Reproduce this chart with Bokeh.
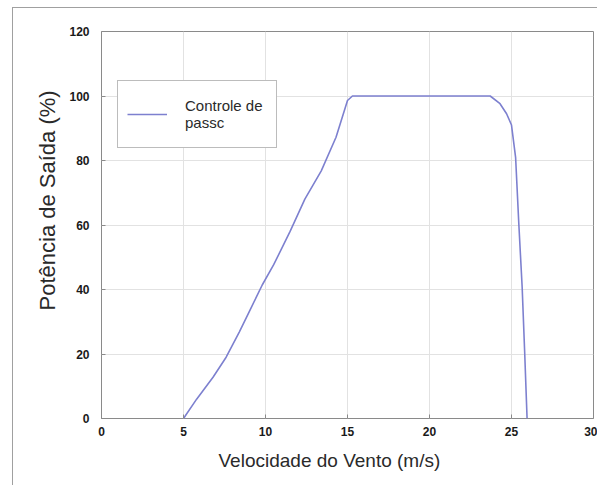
from bokeh.plotting import figure
from bokeh.models import Range1d, FixedTicker, Legend, LegendItem, Title
from bokeh.layouts import column
from bokeh.embed import file_html
from bokeh.resources import INLINE

# Data
wind_speed = [5.0, 5.8, 6.8, 7.6, 8.4, 9.1, 9.8, 10.5, 11.5, 12.4, 13.4, 14.3, 15.0, 15.3,
              23.7, 24.3, 24.7, 25.0, 25.25, 25.45, 25.65, 25.8, 25.95]
power_pct = [0.0, 6.0, 12.8, 19.0, 26.8, 34.1, 41.4, 47.7, 58.0, 68.0, 76.8, 87.2, 98.6, 100.0,
             100.0, 97.6, 94.5, 91.0, 81.0, 60.0, 40.7, 21.0, 0.0]
x_ticks = [0, 5, 10, 15, 20, 25, 30]
y_ticks = [0, 20, 40, 60, 80, 100, 120]
series_label = "Controle de\npassc"
x_title = "Velocidade do Vento (m/s)"
y_title = "Potência de Saída (%)"

p = figure(width=584, height=477, output_backend="svg", toolbar_location=None,
           x_range=Range1d(0, 30), y_range=Range1d(0, 120),
           min_border_left=88, min_border_right=4, min_border_top=23, min_border_bottom=67)
p.background_fill_color = "white"
p.border_fill_alpha = 0
p.outline_line_color = "#8a8a8a"
p.outline_line_width = 1

r = p.line(wind_speed, power_pct, line_color="#7d80cf", line_width=1.6)

for ax in (p.xaxis[0], p.yaxis[0]):
    ax.axis_line_color = None
    ax.major_tick_in = 4
    ax.major_tick_out = 0
    ax.minor_tick_line_color = None
    ax.major_tick_line_color = "#8a8a8a"
    ax.major_label_text_font = "Liberation Sans"
    ax.major_label_text_font_style = "bold"
    ax.major_label_text_font_size = "12px"
    ax.major_label_text_color = "#1a1a1a"

p.xaxis.ticker = FixedTicker(ticks=x_ticks)
p.yaxis.ticker = FixedTicker(ticks=y_ticks)
p.xaxis.major_label_standoff = 8
p.yaxis.major_label_standoff = 12

p.xgrid.grid_line_color = "#e2e2e2"
p.ygrid.grid_line_color = "#e2e2e2"

# axis titles, placed off the frame centre as in the reference
xt = Title(text=x_title, align="left", offset=117, standoff=19,
           text_font="Liberation Sans", text_font_size="19px",
           text_font_style="normal", text_color="#2a2a2a")
yt = Title(text=y_title, align="left", offset=108, standoff=14,
           text_font="Liberation Sans", text_font_size="22px",
           text_font_style="normal", text_color="#2a2a2a")
p.add_layout(xt, "below")
p.add_layout(yt, "left")

legend = Legend(items=[LegendItem(label=series_label, renderers=[r])],
                location=(16, 270), orientation="vertical")
legend.border_line_color = "#7a7a7a"
legend.border_line_width = 1
legend.background_fill_alpha = 1
legend.label_text_font = "Liberation Sans"
legend.label_text_font_size = "15px"
legend.label_text_line_height = 1.6
legend.label_text_color = "#2a2a2a"
legend.glyph_width = 40
legend.label_standoff = 18
legend.label_height = 48
legend.label_width = 82
legend.padding = 9
legend.margin = 0
p.add_layout(legend, "center")

page = column(p, margin=(7, 0, 0, 12),
              styles={"border-left": "1px solid #a0a0a0", "border-top": "1px solid #a0a0a0"})

open("out.html", "w").write(file_html(page, INLINE))
